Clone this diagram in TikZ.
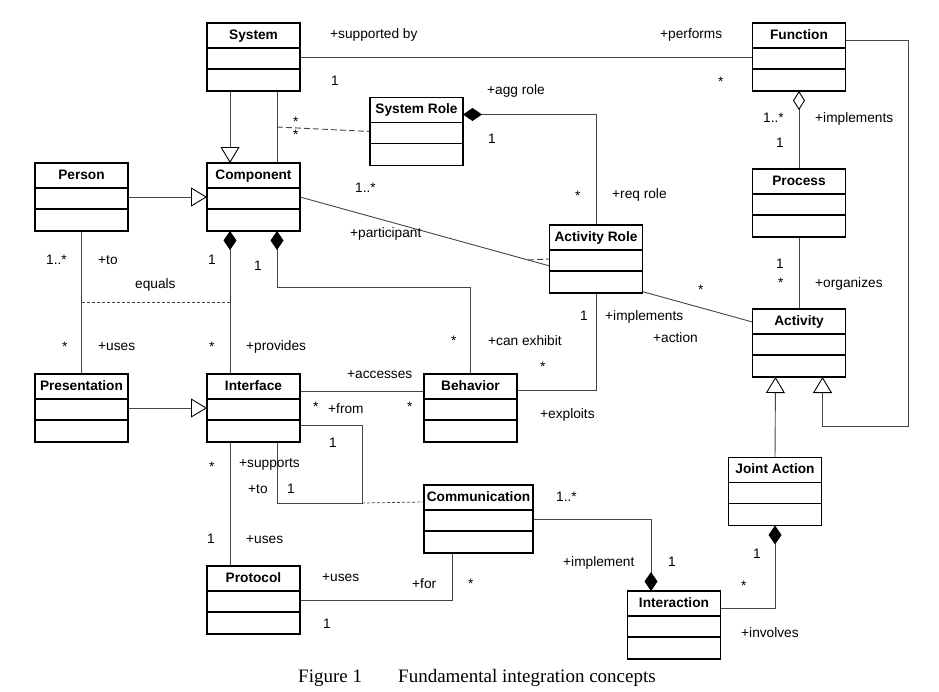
\documentclass[tikz,border=0pt]{standalone}
\usepackage{fontspec}
\setmainfont{Liberation Sans}
\newfontfamily\capfont{Liberation Serif}
\usetikzlibrary{arrows.meta,positioning,backgrounds}
\definecolor{Ink}{HTML}{000000}
\definecolor{Wire}{HTML}{454545}
\tikzset{
  umlclass/.style={
    draw=Ink, line width=1.2pt, fill=white, outer sep=0pt,
    minimum width=93pt, inner xsep=2pt, inner ysep=0pt,
    text height=16pt, text depth=52pt,
    font=\fontsize{13.7}{16}\selectfont\bfseries,
    path picture={
      \draw[line width=1.2pt] ([yshift=-25pt]path picture bounding box.north west)
        -- ([yshift=-25pt]path picture bounding box.north east);
      \draw[line width=1.2pt] ([yshift=-46pt]path picture bounding box.north west)
        -- ([yshift=-46pt]path picture bounding box.north east);
    }
  },
  lbl/.style={anchor=base west, inner sep=0pt, font=\fontsize{13.7}{16}\selectfont},
  caption/.style={anchor=base west, inner sep=0pt, font=\capfont\fontsize{19}{22}\selectfont},
  conn/.style={draw=Wire, line width=0.9pt},
  gen/.style={conn, -{Triangle[open, length=16pt, width=19pt, Ink]}},
  comp/.style={conn, -{Diamond[length=19pt, width=13pt, Ink]}},
  aggr/.style={conn, -{Diamond[open, length=19pt, width=12pt, Ink]}},
  assocdash/.style={conn, dash pattern=on 6pt off 3pt},
  finedash/.style={conn, line width=0.7pt, dash pattern=on 3pt off 2pt}
}

\begin{document}
\begin{tikzpicture}[x=1pt, y=-1pt]
  \useasboundingbox (0,0) rectangle (939,691);
  % classes
  \node[umlclass] (system) at (253.5,57) {System};
  \node[umlclass, below=72pt of system] (component) {Component};
  \node[umlclass, left=79pt of component] (person) {Person};
  \node[umlclass, below=143pt of person] (presentation) {Presentation};
  \node[umlclass, below=143pt of component] (interface) {Interface};
  \node[umlclass, below=124pt of interface] (protocol) {Protocol};
  \node[umlclass, right=124pt of interface] (behavior) {Behavior};
  \node[umlclass] (sysrole) at (416.5,131.5) {System Role};
  \node[umlclass] (function) at (799,57) {Function};
  \node[umlclass, below=78pt of function] (process) {Process};
  \node[umlclass, below=72pt of process] (activity) {Activity};
  \node[umlclass] (actrole) at (596,259) {Activity Role};
  \node[umlclass] (jointaction) at (775,491.5) {Joint Action};
  \node[umlclass, minimum width=109pt] (communication) at (478.5,519) {Communication};
  \node[umlclass] (interaction) at (674,625) {Interaction};

  % connectors
  \begin{scope}[on background layer]
    \draw[gen] ([xshift=-23.5pt]system.south) -- ([xshift=-23.5pt]component.north);
    \draw[conn] ([xshift=23.5pt]system.south) -- coordinate[pos=0.5] (sc) ([xshift=23.5pt]component.north);
    \draw[assocdash] (sc) -- (sysrole.west);
    \draw[conn] (system.east) -- (function.west);
    \draw[comp] (actrole.north) |- ([yshift=-17pt]sysrole.north east);
    \draw[aggr] (process.north) -- (function.south);
    \coordinate (fbend) at (908,426);
    \draw[gen] ([yshift=-17pt]function.north east) -| (fbend) -| ([xshift=23.5pt]activity.south);
    \draw[conn] (process.south) -- (activity.north);
    \draw[gen] (jointaction.north) -- ([xshift=-23.5pt]activity.south);
    \draw[conn] (component.east) -- coordinate[pos=0.504] (ca) ([yshift=-13pt]activity.north west);
    \draw[assocdash] (ca) -- (actrole.west);
    \draw[comp] ([xshift=-23.5pt]interface.north) -- coordinate[pos=0.5] (ci) ([xshift=-23.5pt]component.south);
    \coordinate (cbend) at (277,287);
    \draw[comp] (behavior.north) |- (cbend) -- ([xshift=23.5pt]component.south);
    \draw[gen] (person.east) -- (component.west);
    \draw[conn] (person.south) -- coordinate[pos=0.5] (pp) (presentation.north);
    \draw[finedash] (pp) -- (ci);
    \draw[gen] (presentation.east) -- (interface.west);
    \draw[conn] ([yshift=-17pt]interface.north east) -- ([yshift=-17pt]behavior.north west);
    \draw[conn] ([yshift=-16pt]behavior.north east) -| (actrole.south);
    \coordinate (ibend) at (362,503);
    \draw[conn] ([yshift=-51pt]interface.north east) -| (ibend) -| ([xshift=23.5pt]interface.south);
    \draw[finedash] (ibend) -- ([yshift=-17pt]communication.north west);
    \draw[conn] ([xshift=-23.5pt]interface.south) -- ([xshift=-23.5pt]protocol.north);
    \draw[conn] (protocol.east) -| ([xshift=28pt]communication.south west);
    \draw[comp] (communication.east) -| ([xshift=-23pt]interaction.north);
    \draw[comp] ([yshift=-17pt]interaction.north east) -| (jointaction.south);
  \end{scope}

  % role names and multiplicities
  \node[lbl] (sf-role) at (330,38) {+supported by};
  \node[lbl] (sf-mult) at (331,85) {1};
  \node[lbl] (sc-mult1) at (293,126) {*};
  \node[lbl] (sc-mult2) at (293,139) {*};
  \node[lbl] (fs-role) at (660,38) {+performs};
  \node[lbl] (fs-mult) at (718,86) {*};
  \node[lbl] (sr-role) at (487,94) {+agg role};
  \node[lbl] (sr-mult) at (488,143) {1};
  \node[lbl] (fp-mult) at (763,122) {1..*};
  \node[lbl] (fp-role) at (815,122) {+implements};
  \node[lbl] (pf-mult) at (776,147) {1};
  \node[lbl] (ar-mult) at (575,200) {*};
  \node[lbl] (ar-role) at (612,198) {+req role};
  \node[lbl] (ca-mult) at (355,192) {1..*};
  \node[lbl] (ca-role) at (350,237) {+participant};
  \node[lbl] (pp-mult) at (46,264) {1..*};
  \node[lbl] (pp-role) at (98,264) {+to};
  \node[lbl] (ci-mult) at (208,264) {1};
  \node[lbl] (cb-mult) at (254,270) {1};
  \node[lbl] (eq) at (135,288) {equals};
  \node[lbl] (pr-mult) at (62,351) {*};
  \node[lbl] (pr-role) at (98,350) {+uses};
  \node[lbl] (ic-mult) at (209,351) {*};
  \node[lbl] (ic-role) at (246,350) {+provides};
  \node[lbl] (bc-mult) at (451,345) {*};
  \node[lbl] (ib-role) at (347,378) {+accesses};
  \node[lbl] (ib-mult1) at (313,411) {*};
  \node[lbl] (ib-from) at (328,413) {+from};
  \node[lbl] (ib-mult2) at (407,411) {*};
  \node[lbl] (ii-mult1) at (329,447) {1};
  \node[lbl] (pa-mult1) at (776,268) {1};
  \node[lbl] (pa-mult2) at (778,287) {*};
  \node[lbl] (pa-role) at (815,287) {+organizes};
  \node[lbl] (aa-mult) at (698,294) {*};
  \node[lbl] (ba-mult) at (580,320) {1};
  \node[lbl] (ba-role) at (605,320) {+implements};
  \node[lbl] (aa-role) at (653,342) {+action};
  \node[lbl] (bc-role) at (488,345) {+can exhibit};
  \node[lbl] (ab-mult) at (540,371) {*};
  \node[lbl] (ab-role) at (540,418) {+exploits};
  \node[lbl] (ip-mult) at (209,471) {*};
  \node[lbl] (ip-role) at (239,467) {+supports};
  \node[lbl] (ii-role) at (248,493) {+to};
  \node[lbl] (ii-mult2) at (287,493) {1};
  \node[lbl] (pi-mult) at (207,543) {1};
  \node[lbl] (pi-role) at (246,543) {+uses};
  \node[lbl] (pc-role) at (322,581) {+uses};
  \node[lbl] (cp-role) at (412,588) {+for};
  \node[lbl] (cp-mult) at (468,588) {*};
  \node[lbl] (pc-mult) at (323,628) {1};
  \node[lbl] (ci2-mult) at (556,501) {1..*};
  \node[lbl] (ci2-role) at (563,566) {+implement};
  \node[lbl] (ic2-mult) at (668,566) {1};
  \node[lbl] (jx-mult) at (753,558) {1};
  \node[lbl] (xj-mult) at (741,590) {*};
  \node[lbl] (xj-role) at (741,637) {+involves};

  % caption
  \node[caption] (fig) at (298,682) {Figure 1};
  \node[caption] (figtitle) at (398,682) {Fundamental integration concepts};
\end{tikzpicture}
\end{document}
